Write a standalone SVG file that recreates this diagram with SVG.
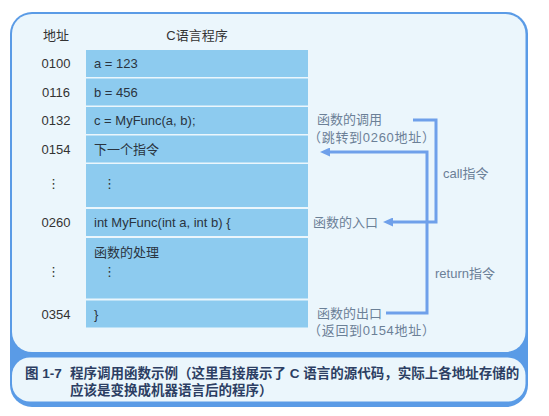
<svg xmlns="http://www.w3.org/2000/svg" width="549" height="416" viewBox="0 0 549 416">
<style>
.row{fill:#8dcbef}
.hd{font-family:"Liberation Sans","Noto Sans CJK SC",sans-serif;font-size:13px;fill:#333}
.addr{font-family:"Liberation Sans","Noto Sans CJK SC",sans-serif;font-size:13px;fill:#333;text-anchor:middle}
.code{font-family:"Liberation Sans","Noto Sans CJK SC",sans-serif;font-size:13px;fill:#2a3440}
.dots{font-family:"DejaVu Sans","Noto Sans CJK SC",sans-serif;font-size:13px;fill:#333;text-anchor:middle}
.ann{font-family:"Liberation Sans","Noto Sans CJK SC",sans-serif;font-size:13px;fill:#6b8097}
.par{letter-spacing:0.7px}
.cap{font-family:"Liberation Sans","Noto Sans CJK SC",sans-serif;font-size:13.5px;font-weight:bold;fill:#2c3e63}
.con{fill:none;stroke:#6fa0ea;stroke-width:3}
</style>
<defs>
<marker id="ah" viewBox="0 0 10 9" refX="0" refY="4.5" markerWidth="10" markerHeight="9" markerUnits="userSpaceOnUse" orient="auto">
<path d="M0,0 L10,4.5 L0,9 Z" fill="#6fa0ea"/>
</marker>
</defs>
<rect width="549" height="416" fill="#ffffff"/>
<g id="frame">
<rect x="10" y="12" width="518" height="395" rx="22" fill="#5a9be6"/>
<rect x="12" y="14" width="513.5" height="338" rx="20" fill="#ebf6fc"/>
<rect x="12" y="357.5" width="513.5" height="44" rx="18" fill="#ebf6fc"/>
</g>
<g id="header">
<text class="hd" x="56" y="40" text-anchor="middle">地址</text>
<text class="hd" x="197" y="40" text-anchor="middle">C语言程序</text>
</g>
<g id="row-0100">
<rect class="row" x="86" y="50" width="222" height="27"/>
<text class="addr" x="56" y="68">0100</text>
<text class="code" x="94" y="68">a = 123</text>
</g>
<g id="row-0116">
<rect class="row" x="86" y="78.5" width="222" height="27"/>
<text class="addr" x="56" y="96.5">0116</text>
<text class="code" x="94" y="96.5">b = 456</text>
</g>
<g id="row-0132">
<rect class="row" x="86" y="107" width="222" height="27"/>
<text class="addr" x="56" y="125">0132</text>
<text class="code" x="94" y="125">c = MyFunc(a, b);</text>
</g>
<g id="row-0154">
<rect class="row" x="86" y="135.5" width="222" height="27"/>
<text class="addr" x="56" y="153.5">0154</text>
<text class="code" x="94" y="153.5">下一个指令</text>
</g>
<g id="row-gap1">
<rect class="row" x="86" y="164" width="222" height="43"/>
<text class="dots" x="53.5" y="188">⋮</text>
<text class="dots" x="109.5" y="188">⋮</text>
</g>
<g id="row-0260">
<rect class="row" x="86" y="209" width="222" height="27"/>
<text class="addr" x="56" y="227">0260</text>
<text class="code" x="94" y="227">int MyFunc(int a, int b) {</text>
</g>
<g id="row-body">
<rect class="row" x="86" y="238" width="222" height="60.5"/>
<text class="code" x="94" y="256.5">函数的处理</text>
<text class="dots" x="53.5" y="276">⋮</text>
<text class="dots" x="109.5" y="276">⋮</text>
</g>
<g id="row-0354">
<rect class="row" x="86" y="300.5" width="222" height="27"/>
<text class="addr" x="56" y="318.5">0354</text>
<text class="code" x="94" y="318.5">}</text>
</g>
<g id="connectors">
<path class="con" d="M413,120 H436 V222 H393" marker-end="url(#ah)"/>
<path class="con" d="M386,313 H427 V152 H330" marker-end="url(#ah)"/>
</g>
<g id="annotations">
<text class="ann" x="317" y="123.5">函数的调用</text>
<text class="ann par" x="308" y="141.5">（跳转到0260地址）</text>
<text class="ann" x="443" y="177.5">call指令</text>
<text class="ann" x="313" y="227">函数的入口</text>
<text class="ann" x="435" y="277.5">return指令</text>
<text class="ann" x="317" y="317.5">函数的出口</text>
<text class="ann par" x="308" y="334.5">（返回到0154地址）</text>
</g>
<g id="caption">
<text class="cap" x="25" y="378">图 1-7</text>
<text class="cap" x="70" y="378">程序调用函数示例（这里直接展示了 C 语言的源代码，实际上各地址存储的</text>
<text class="cap" x="70" y="395">应该是变换成机器语言后的程序）</text>
</g>
</svg>
